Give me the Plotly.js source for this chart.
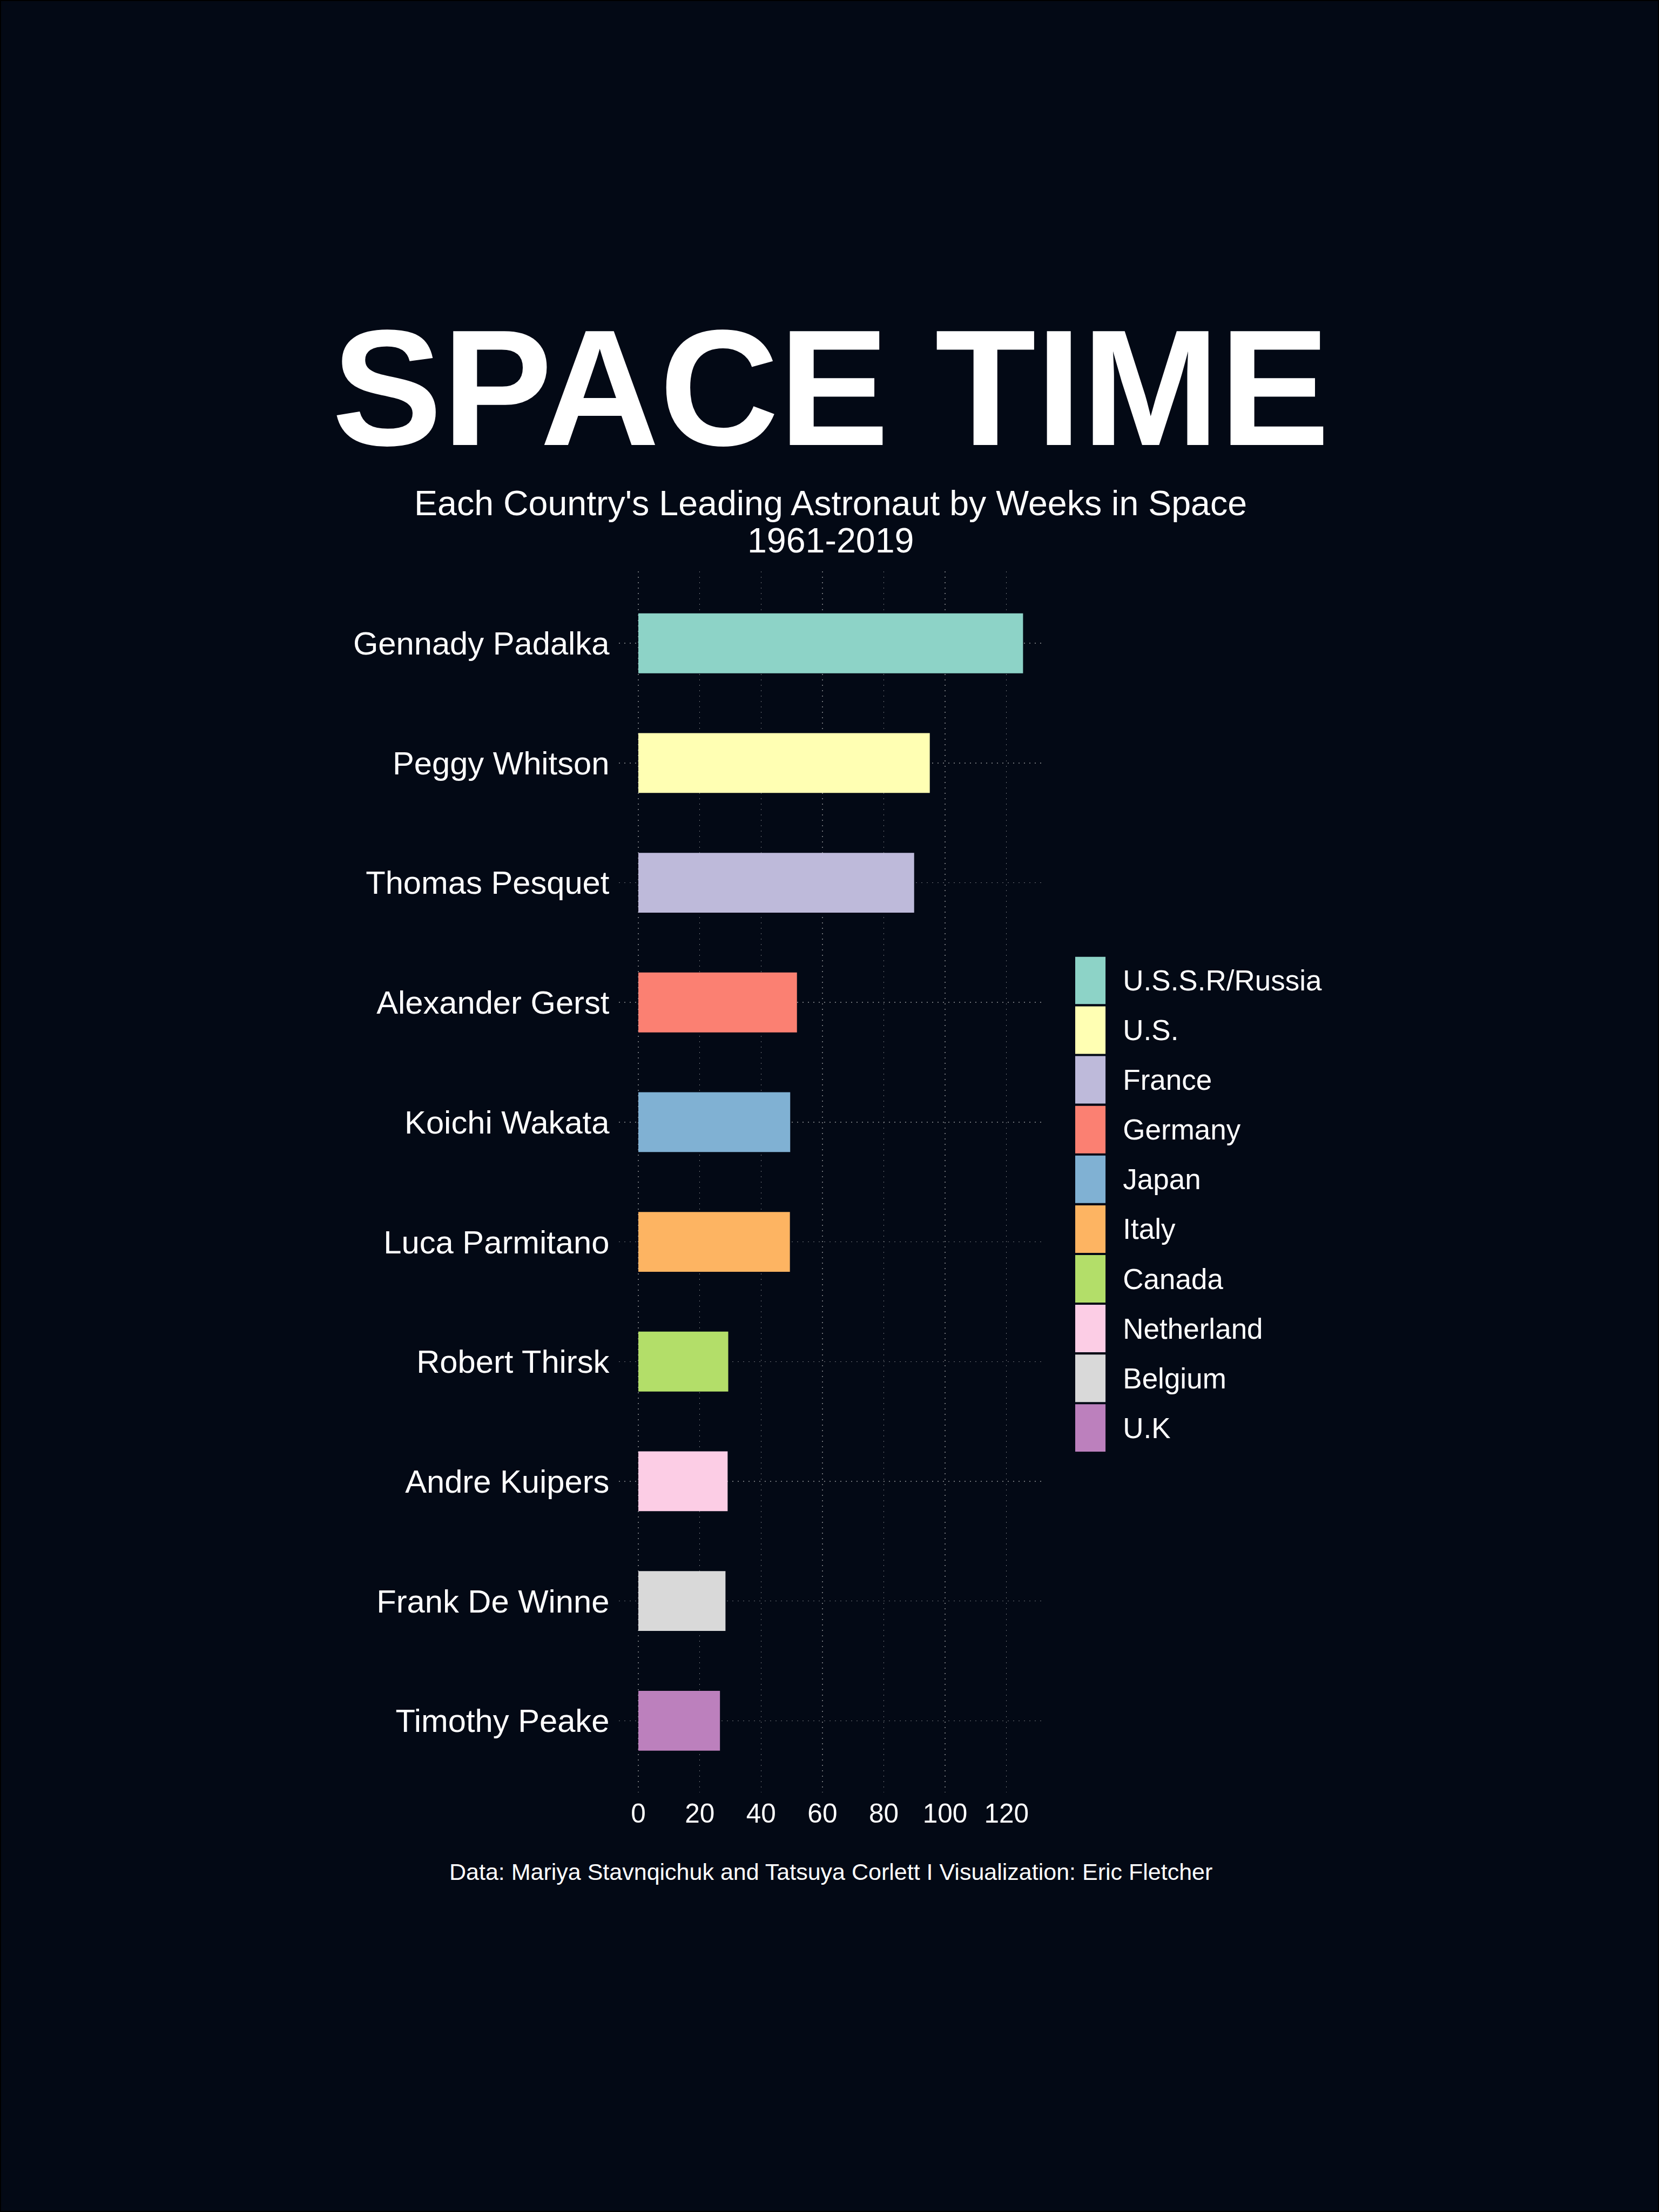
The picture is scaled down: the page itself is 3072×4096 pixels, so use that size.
<!DOCTYPE html>
<html>
<head>
<meta charset="utf-8">
<script src="https://cdn.plot.ly/plotly-3.0.1.min.js"></script>
<style>
html, body { margin: 0; padding: 0; background: #030915; }
#chart { width: 3072px; height: 4096px; }
</style>
</head>
<body>
<div id="chart"></div>
<script>
// ---- data ----
const astronauts = ["Gennady Padalka", "Peggy Whitson", "Thomas Pesquet", "Alexander Gerst",
  "Koichi Wakata", "Luca Parmitano", "Robert Thirsk", "Andre Kuipers", "Frank De Winne", "Timothy Peake"];
const weeksInSpace = [125.4, 95.0, 89.9, 51.7, 49.5, 49.4, 29.3, 29.1, 28.4, 26.6];
const countries = ["U.S.S.R/Russia", "U.S.", "France", "Germany", "Japan", "Italy", "Canada", "Netherland", "Belgium", "U.K"];
const countryColors = ["#8DD3C7", "#FFFFB3", "#BEBADA", "#FB8072", "#80B1D3", "#FDB462", "#B3DE69", "#FCCDE5", "#D9D9D9", "#BC80BD"];
const legendKeyLength = [1, 1, 1, 1, 1, 1, 1, 1, 1, 1];
const xTickValues = [0, 20, 40, 60, 80, 100, 120];
const xTickLabels = ["0", "20", "40", "60", "80", "100", "120"];

const titleText = "SPACE TIME";
const subtitleLine1 = "Each Country's Leading Astronaut by Weeks in Space";
const subtitleLine2 = "1961-2019";
const captionText = "Data: Mariya Stavnqichuk and Tatsuya Corlett I Visualization: Eric Fletcher";

// ---- style ----
const BG = "#030915";
const FONT = "Liberation Sans, Arial, Helvetica, sans-serif";
const GRID = "rgba(200,200,200,0.55)";

const bars = {
  type: "bar",
  orientation: "h",
  y: astronauts,
  x: weeksInSpace,
  width: 0.5,
  marker: { color: countryColors, line: { width: 0 } },
  xaxis: "x", yaxis: "y",
  hoverinfo: "skip"
};

const legendKeys = {
  type: "bar",
  orientation: "h",
  y: countries,
  x: legendKeyLength,
  width: 0.955,
  marker: { color: countryColors, line: { width: 0 } },
  xaxis: "x2", yaxis: "y2",
  hoverinfo: "skip"
};

const layout = {
  width: 3072,
  height: 4096,
  paper_bgcolor: BG,
  plot_bgcolor: BG,
  margin: { l: 0, r: 0, t: 0, b: 0, pad: 0 },
  showlegend: false,
  font: { family: FONT, color: "#FFFFFF" },
  title: {
    text: titleText,
    font: { family: FONT, size: 306, weight: "bold", color: "#FFFFFF" },
    x: 0.5008, xref: "container", xanchor: "center",
    y: 0.8250, yref: "container", yanchor: "middle"
  },
  xaxis: {
    domain: [0.37318, 0.62845],
    range: [-6.275, 131.775],
    tickmode: "array",
    tickvals: xTickValues,
    ticktext: xTickLabels,
    showgrid: true,
    gridcolor: GRID,
    gridwidth: 1.5,
    griddash: "2px,8px",
    zeroline: false,
    showline: false,
    ticks: "",
    ticklabelstandoff: 5,
    tickfont: { family: FONT, size: 49.5, color: "#FFFFFF" },
    fixedrange: true
  },
  yaxis: {
    domain: [0.18962, 0.74165],
    type: "category",
    categoryorder: "array",
    categoryarray: astronauts,
    range: [9.6, -0.6],
    showgrid: true,
    gridcolor: GRID,
    gridwidth: 1.5,
    griddash: "2px,8px",
    zeroline: false,
    showline: false,
    ticks: "",
    ticklabelstandoff: 17,
    tickfont: { family: FONT, size: 59.7, color: "#FFFFFF" },
    fixedrange: true
  },
  xaxis2: {
    domain: [0.64811, 0.66644],
    range: [0, 1],
    anchor: "y2",
    visible: false,
    fixedrange: true
  },
  yaxis2: {
    domain: [0.34368, 0.56753],
    anchor: "x2",
    side: "right",
    type: "category",
    categoryorder: "array",
    categoryarray: countries,
    range: [9.4775, -0.4775],
    showgrid: false,
    zeroline: false,
    showline: false,
    ticks: "",
    ticklabelstandoff: 31,
    tickfont: { family: FONT, size: 53, color: "#FFFFFF" },
    fixedrange: true
  },
  annotations: [
    { text: subtitleLine1, xref: "paper", yref: "paper", x: 0.5008, y: 0.77239,
      xanchor: "center", yanchor: "middle", showarrow: false,
      font: { family: FONT, size: 64.5, color: "#FFFFFF" } },
    { text: subtitleLine2, xref: "paper", yref: "paper", x: 0.5008, y: 0.75564,
      xanchor: "center", yanchor: "middle", showarrow: false,
      font: { family: FONT, size: 64.5, color: "#FFFFFF" } },
    { text: captionText, xref: "paper", yref: "paper", x: 0.5008, y: 0.15381,
      xanchor: "center", yanchor: "middle", showarrow: false,
      font: { family: FONT, size: 43, color: "#FFFFFF" } }
  ],
  shapes: [
    { type: "rect", xref: "paper", yref: "paper", x0: 0, x1: 1, y0: 0, y1: 1,
      line: { color: "#000000", width: 4 }, fillcolor: "rgba(0,0,0,0)", layer: "above" }
  ]
};

Plotly.newPlot("chart", [bars, legendKeys], layout, { staticPlot: true, displayModeBar: false });
</script>
</body>
</html>
